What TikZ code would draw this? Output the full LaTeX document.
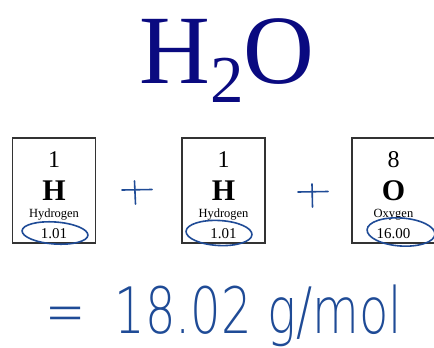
\documentclass[tikz,border=0pt]{standalone}
\usepackage{fontspec}
\setmainfont{Liberation Serif}
\IfFontExistsTF{DejaVuSans-ExtraLight.ttf}
  {\newfontfamily\handfont[FakeStretch=0.75]{DejaVuSans-ExtraLight.ttf}\def\handsize{64}}
  {\newfontfamily\handfont[FakeStretch=0.81]{Open Sans}\def\handsize{66}}
\definecolor{navy}{HTML}{0A0A80}
\definecolor{ink}{HTML}{1F4B96}
\definecolor{frame}{HTML}{333333}
\usetikzlibrary{calc, positioning}

\begin{document}
\begin{tikzpicture}[x=1pt, y=-1pt,
  elbox/.style={draw=frame, line width=1.1pt, minimum width=83pt,
                minimum height=105pt, inner sep=0pt},
  atnum/.style={anchor=base, font=\fontsize{24}{24}\selectfont},
  elsym/.style={anchor=base, font=\fontsize{30}{30}\selectfont\bfseries},
  elname/.style={anchor=base, font=\fontsize{12.5}{12.5}\selectfont},
  mass/.style={anchor=base, font=\fontsize{15}{15}\selectfont},
  pen/.style={draw=ink, line width=1.6pt, line cap=round},
]
\useasboundingbox (0,0) rectangle (434,348);

\node[anchor=base, text=navy, inner sep=0pt] (title) at (227,83)
  {\fontsize{98}{98}\selectfont H\raisebox{-19pt}{\fontsize{67}{67}\selectfont 2}O};

\node[elbox] (b1) at (54,190.5) {};
\node[elbox] (b2) at (223.5,190.5) {};
\node[elbox] (b3) at (393.5,190.5) {};

\node[atnum] (n1) at (54,167) {1};
\node[elsym] (s1) at (54,200) {H};
\node[elname] (e1) at (54,217) {Hydrogen};
\node[mass] (m1) at (54,238) {1.01};

\node[atnum] (n2) at (223.5,167) {1};
\node[elsym] (s2) at (223.5,200) {H};
\node[elname] (e2) at (223.5,217) {Hydrogen};
\node[mass] (m2) at (223.5,238) {1.01};

\node[atnum] (n3) at (393.5,167) {8};
\node[elsym] (s3) at (393.5,200) {O};
\node[elname] (e3) at (393.5,217) {Oxygen};
\node[mass] (m3) at (393.5,238) {16.00};

\draw[pen, rotate around={-4:(55,233)}] (55,233) ellipse (33 and 11);
\draw[pen, rotate around={-3:(219,233)}] (219,233) ellipse (33 and 12.5);
\draw[pen, rotate around={-4:(401,232)}] (401,232) ellipse (34 and 14);

\draw[pen] (122,190) -- (152,189.5);
\draw[pen] (134.5,181) -- (135.5,204);
\draw[pen] (298,192) -- (328,191.5);
\draw[pen] (312,184) -- (312.5,207);

\node[anchor=base west, text=ink, inner sep=0pt] (total) at (45,333)
  {\handfont\fontsize{\handsize}{\handsize}\selectfont =\hspace{14pt} 18.02 g/mol};
\end{tikzpicture}
\end{document}
